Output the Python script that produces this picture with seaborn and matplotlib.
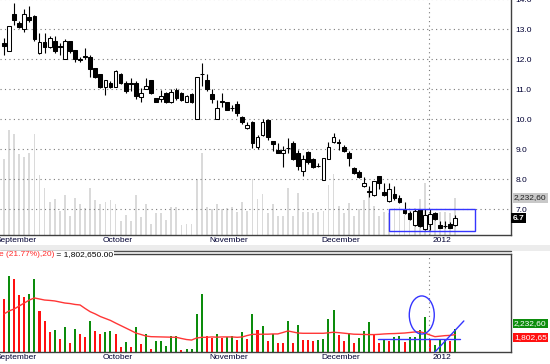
import matplotlib
matplotlib.use("Agg")
import numpy as np
import pandas as pd
import seaborn as sns
import matplotlib.pyplot as plt
from matplotlib import transforms
from matplotlib.patches import Rectangle, Ellipse
from matplotlib.lines import Line2D

# ---------------- data ----------------
opens = [12.55, 12.29, 13.50, 13.20, 13.00, 13.42, 13.44, 12.20, 12.59, 12.40,
         12.62, 12.43, 12.00, 12.62, 12.31, 12.00, 12.10, 12.09, 11.70, 11.51,
         11.07, 11.20, 11.09, 11.51, 11.20, 11.20, 11.20, 10.75, 11.00, 11.31,
         10.72, 10.68, 10.87, 10.57, 10.98, 10.87, 10.59, 10.85, 10.00, 11.52,
         11.31, 10.85, 10.00, 10.60, 10.59, 10.37, 10.50, 10.09, 9.72, 9.90,
         9.07, 9.48, 9.98, 9.28, 8.98, 8.89, 9.04, 9.20, 8.89, 8.28,
         8.90, 8.68, 8.45, 7.98, 8.68, 9.25, 9.23, 9.07, 8.89, 8.39,
         8.25, 7.78, 7.60, 7.48, 8.11, 7.59, 7.29, 7.50, 7.37, 7.02,
         6.87, 6.46, 7.00, 6.33, 6.51, 6.87, 6.49, 6.45, 6.50, 6.48]
highs = [12.70, 13.12, 13.87, 13.26, 13.67, 13.78, 13.48, 12.87, 12.87, 12.78,
         12.78, 12.53, 12.66, 12.62, 12.31, 12.09, 12.39, 12.14, 11.70, 11.51,
         11.31, 11.26, 11.63, 11.54, 11.26, 11.37, 11.26, 11.03, 11.37, 11.31,
         10.72, 10.98, 10.90, 11.00, 11.03, 10.90, 10.80, 10.87, 11.40, 11.89,
         11.51, 11.00, 10.65, 10.86, 10.59, 10.48, 10.60, 10.12, 9.90, 9.93,
         9.48, 10.00, 10.00, 9.28, 9.20, 9.11, 9.37, 9.27, 8.98, 8.81,
         8.95, 8.70, 8.55, 8.72, 9.25, 9.55, 9.33, 9.15, 8.93, 8.42,
         8.30, 8.07, 7.76, 7.95, 8.11, 7.87, 7.87, 7.76, 7.48, 7.24,
         6.95, 7.00, 7.02, 7.00, 7.00, 6.90, 6.60, 6.60, 6.57, 6.81]
lows = [12.14, 12.28, 13.14, 13.03, 12.90, 13.25, 12.62, 12.17, 12.20, 12.37,
        12.22, 12.14, 12.00, 12.20, 11.92, 11.92, 12.00, 11.40, 11.37, 11.04,
        10.81, 11.04, 11.07, 11.18, 10.89, 10.95, 10.67, 10.59, 11.00, 10.84,
        10.57, 10.59, 10.53, 10.53, 10.64, 10.60, 10.57, 10.55, 10.00, 11.11,
        10.95, 10.55, 10.00, 10.42, 10.31, 10.26, 10.10, 9.85, 9.69, 9.04,
        9.02, 9.45, 9.32, 8.95, 8.86, 8.40, 8.89, 8.65, 8.30, 8.11,
        8.52, 8.38, 8.40, 7.98, 8.68, 9.20, 8.98, 8.92, 8.45, 8.18,
        8.05, 7.74, 7.42, 7.45, 7.66, 7.43, 7.25, 7.30, 7.20, 6.84,
        6.64, 6.44, 6.40, 6.30, 6.30, 6.63, 6.36, 6.36, 6.36, 6.45]
closes = [12.44, 13.11, 13.31, 13.09, 13.50, 13.31, 12.67, 12.59, 12.40, 12.70,
          12.29, 12.42, 12.62, 12.29, 12.00, 11.99, 12.09, 11.67, 11.40, 11.07,
          11.31, 11.07, 11.61, 11.20, 10.95, 11.19, 10.78, 10.87, 11.11, 10.87,
          10.59, 10.79, 10.57, 10.92, 10.70, 10.64, 10.79, 10.57, 11.40, 11.50,
          11.00, 10.67, 10.39, 10.59, 10.31, 10.36, 10.20, 9.92, 9.80, 9.20,
          9.40, 9.90, 9.40, 9.18, 8.89, 8.98, 9.03, 8.67, 8.44, 8.68,
          8.59, 8.40, 8.44, 8.70, 9.07, 9.40, 9.22, 8.95, 8.70, 8.20,
          8.09, 7.89, 7.59, 7.95, 7.87, 7.48, 7.67, 7.37, 7.25, 6.88,
          6.66, 6.95, 6.44, 6.80, 6.84, 6.67, 6.39, 6.44, 6.39, 6.70]
# volume in millions
volume_m = [4.54, 6.31, 6.08, 4.85, 4.70, 4.93, 6.08, 3.62, 2.85, 2.00,
            2.15, 1.46, 2.39, 1.15, 2.23, 1.85, 1.62, 2.85, 2.08, 1.85,
            2.00, 2.08, 1.85, 0.85, 1.23, 0.85, 2.39, 1.08, 1.85, 0.69,
            1.31, 1.31, 0.92, 1.69, 1.69, 0.61, 0.69, 0.69, 3.39, 4.93,
            1.69, 1.54, 1.85, 1.54, 1.62, 1.69, 1.38, 2.00, 1.46, 3.39,
            2.15, 2.46, 1.31, 1.85, 1.15, 1.13, 2.85, 1.13, 2.52, 1.38,
            1.36, 1.34, 1.40, 1.44, 3.02, 3.69, 1.77, 1.33, 1.95, 1.13,
            1.54, 2.08, 2.79, 1.77, 1.13, 1.38, 1.30, 1.64, 1.70, 1.23,
            1.64, 1.62, 2.15, 3.13, 1.38, 0.98, 1.38, 1.40, 1.30, 2.2326]
volume_dir = list("RGRRRGGRRRGRGRGRRGRRGGRRGRGRGRGGGGGRGGGGRRGRGGRGRGRGRGRRGRGRRRGGGGRRGRGGGRRGRGGRGGGGRGGGRG")
# 20-period moving average of volume, millions
vol_ma_m = [3.39, 3.62, 3.77, 4.00, 4.23, 4.46, 4.62, 4.54, 4.46, 4.43,
            4.39, 4.31, 4.23, 4.19, 4.12, 4.08, 3.81, 3.56, 3.39, 3.19,
            3.04, 2.89, 2.69, 2.50, 2.31, 2.12, 1.92, 1.81, 1.69, 1.64,
            1.63, 1.62, 1.61, 1.60, 1.59, 1.50, 1.42, 1.38, 1.54, 1.59,
            1.59, 1.62, 1.60, 1.62, 1.62, 1.62, 1.59, 1.62, 1.73, 1.82,
            1.82, 1.83, 1.83, 1.85, 1.85, 1.96, 2.08, 2.00, 1.92, 1.90,
            1.90, 1.90, 1.90, 1.90, 1.94, 1.98, 1.95, 1.91, 1.87, 1.83,
            1.82, 1.81, 1.80, 1.80, 1.82, 1.85, 1.87, 1.88, 1.90, 1.92,
            1.96, 2.00, 2.02, 1.92, 1.77, 1.64, 1.68, 1.72, 1.74, 1.80]
month_labels = ["October", "November", "December", "2012"]
month_pos = [18.7, 39.8, 61.9, 83.8]
first_month_label = "September"
price_ticks = [7.0, 8.0, 9.0, 10.0, 11.0, 12.0, 13.0, 14.0]
last_volume_label = "2,232,60"
last_ma_label = "1,802,65"
ma_header = "e (21.77%),20)"
ma_value_text = " = 1,802,650.00"

n = len(closes)
df = pd.DataFrame({
    "idx": np.arange(n), "open": opens, "high": highs, "low": lows,
    "close": closes, "volume": volume_m, "vdir": volume_dir, "ma": vol_ma_m,
})

# ---------------- style ----------------
sns.set_style("white")
plt.rcParams["font.family"] = ["Liberation Sans", "DejaVu Sans"]
FS = 6
NAVY = "#000033"
BLUE = "#3535ff"
GRID = "#7a7a7a"

W, H = 550, 364
fig = plt.figure(figsize=(W / 100, H / 100), dpi=100)


def rect(x0, y0, x1, y1):
    return [x0 / W, 1 - y1 / H, (x1 - x0) / W, (y1 - y0) / H]


XLIM = (-0.79, 100.0)

# ---------------- pane separator (behind the axes) ----------------
fig.patches.append(Rectangle((0, 1 - 250.5 / H), 1, 5.5 / H, transform=fig.transFigure,
                             fc="#ececec", ec="none", zorder=-2))
fig.add_artist(Line2D([0, 511 / W], [1 - 250.7 / H] * 2, transform=fig.transFigure,
                      color="#505050", lw=1.0, zorder=-1))

# ---------------- top: price panel with volume overlay ----------------
ax = fig.add_axes(rect(0, -2, 511, 235))
ax_v = ax.twinx()
sns.barplot(data=df, x="idx", y="volume", native_scale=True, color="#dadada",
            saturation=1, width=0.35, linewidth=0, errorbar=None, ax=ax_v)
ax_v.set_ylim(0, 14.24)
ax_v.set_yticks([])
ax_v.set_ylabel("")
ax_v.set_xlabel("")
for s in ax_v.spines.values():
    s.set_visible(False)
ax.set_zorder(ax_v.get_zorder() + 1)
ax.patch.set_visible(False)

# wicks
ax.vlines(df["idx"], df["low"], df["high"], color="black", lw=0.8, zorder=2)
# bodies
body_bottom = np.minimum(df["open"], df["close"])
body_h = np.maximum(np.abs(df["close"] - df["open"]), 0.004)
face = np.where(df["close"] > df["open"] + 0.015, "white", "black")
ax.bar(df["idx"], body_h, bottom=body_bottom, width=0.74, color=face,
       edgecolor="black", linewidth=0.75, zorder=3)

ax.set_ylim(6.143, 14.043)
ax.set_yticks(price_ticks)
ax.set_yticklabels([f"{t:.1f}" for t in price_ticks])
ax.yaxis.tick_right()
ax.tick_params(axis="y", length=0, pad=3, labelsize=FS, labelcolor=NAVY)
ax.yaxis.grid(True, linestyle=(0, (1, 3)), color=GRID, lw=0.8)
ax.xaxis.grid(False)
for k in ("left", "top"):
    ax.spines[k].set_visible(False)
for k in ("right", "bottom"):
    ax.spines[k].set_color("#404040")
    ax.spines[k].set_linewidth(1.0)
ax.add_patch(Rectangle((75.9, 6.28), 17.0, 0.72, fill=False, ec=BLUE, lw=1.0, zorder=5))

# ---------------- bottom: volume panel ----------------
ax2 = fig.add_axes(rect(0, 254.3, 511, 352))
sns.barplot(data=df, x="idx", y="volume", hue="vdir", native_scale=True,
            palette={"G": "#0c8c0c", "R": "#ff1010"}, dodge=False, width=0.4,
            saturation=1, linewidth=0, errorbar=None, legend=False, ax=ax2)
sns.lineplot(data=df, x="idx", y="ma", color="#ff3636", lw=1.0, ax=ax2, zorder=4)
ax2.set_ylim(0.46, 7.98)
ax2.set_yticks([])
ax2.set_xlabel("")
ax2.set_ylabel("")
ax2.spines["left"].set_visible(False)
for k in ("right", "bottom", "top"):
    ax2.spines[k].set_color("#404040")
    ax2.spines[k].set_linewidth(1.0)
ax2.add_patch(Ellipse((82.4, 3.31), 4.93, 2.93, fill=False, ec=BLUE, lw=1.0, zorder=6))
ax2.plot([73.8, 89.9], [1.46, 1.46], color=BLUE, lw=1.0, zorder=6)
ax2.plot([85.0, 90.7], [0.46, 2.85], color=BLUE, lw=1.0, zorder=6, clip_on=False)

# ---------------- shared x handling ----------------
for a in (ax, ax2):
    a.set_xlim(*XLIM)
    a.set_xticks(month_pos)
    a.set_xticklabels([])
    a.tick_params(axis="x", length=3, width=0.8, color="#303030", direction="out")
    a.axvline(month_pos[-1], color=GRID, lw=0.8, linestyle=(0, (1, 3)), zorder=1)
    base = transforms.blended_transform_factory(a.transData, a.transAxes)
    tr = transforms.offset_copy(base, fig=fig, x=3.5, y=-5.7, units="dots")
    for p, lab in zip(month_pos, month_labels):
        a.text(p, 0, lab, transform=tr, ha="left", va="center", fontsize=FS,
               color=NAVY, clip_on=False)
    tr0 = transforms.offset_copy(base, fig=fig, x=0, y=-5.7, units="dots")
    a.text(6.5, 0, first_month_label, transform=tr0, ha="right", va="center",
           fontsize=FS, color=NAVY, clip_on=False)

# ---------------- right-side value boxes ----------------
trv = transforms.offset_copy(
    transforms.blended_transform_factory(ax_v.transAxes, ax_v.transData),
    fig=fig, x=3, y=0, units="dots")
ax_v.text(1.0, volume_m[-1], last_volume_label, transform=trv, ha="left", va="center",
          fontsize=FS, color="#202020", clip_on=False,
          bbox=dict(boxstyle="square,pad=0.15", fc="#c8c8c8", ec="none"))
trp = transforms.offset_copy(
    transforms.blended_transform_factory(ax.transAxes, ax.transData),
    fig=fig, x=2, y=0, units="dots")
ax.text(1.0, closes[-1], f"{closes[-1]:.1f}", transform=trp, ha="left", va="center",
        fontsize=FS, color="white", fontweight="bold", clip_on=False, zorder=7,
        bbox=dict(boxstyle="square,pad=0.2", fc="black", ec="none"))
tr2 = transforms.offset_copy(ax2.transAxes, fig=fig, x=3, y=0, units="dots")
ax2.text(1.0, 0.29, last_volume_label, transform=tr2, ha="left", va="center",
         fontsize=FS, color="white", clip_on=False,
         bbox=dict(boxstyle="square,pad=0.15", fc="#0c8c0c", ec="none"))
ax2.text(1.0, 0.15, last_ma_label, transform=tr2, ha="left", va="center",
         fontsize=FS, color="white", clip_on=False,
         bbox=dict(boxstyle="square,pad=0.15", fc="#ff1010", ec="none"))

# ---------------- lower panel header ----------------
trh = transforms.offset_copy(ax2.transAxes, fig=fig, x=-1, y=-0.7, units="dots")
t1 = ax2.text(0, 1, ma_header, transform=trh, ha="left", va="center", fontsize=FS,
              color="#ff2a2a", clip_on=False, zorder=8,
              bbox=dict(boxstyle="square,pad=0.1", fc="white", ec="none"))
ax2.annotate(ma_value_text, xy=(1, 0.5), xycoords=t1, ha="left", va="center",
             fontsize=FS, color="black", zorder=8, annotation_clip=False,
             bbox=dict(boxstyle="square,pad=0.1", fc="white", ec="none"))

fig.savefig("out.png", dpi=100)
